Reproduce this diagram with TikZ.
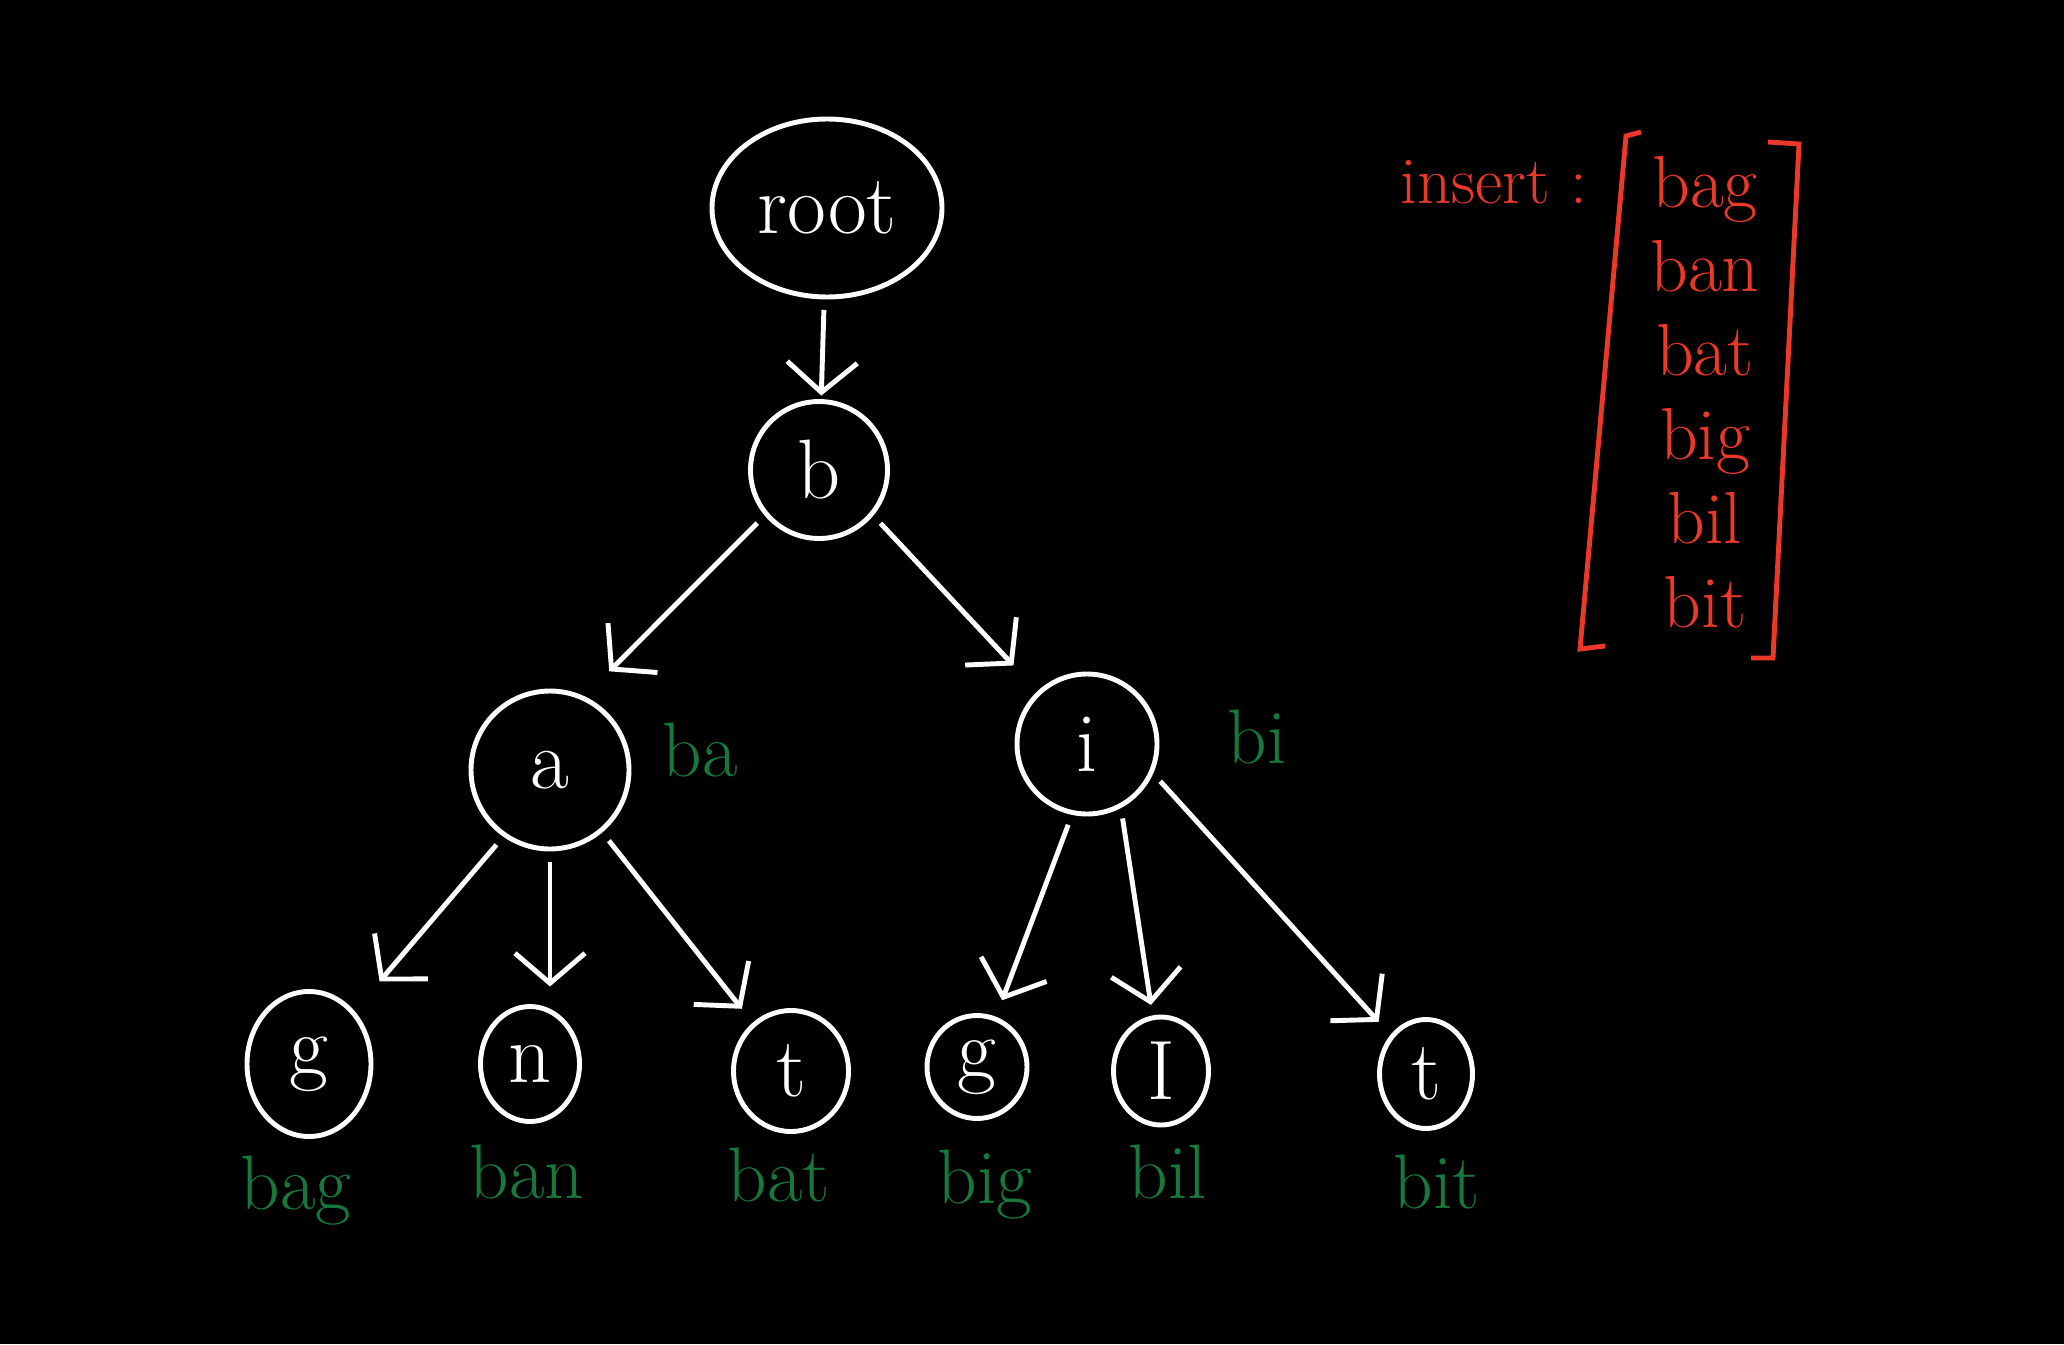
\documentclass[tikz,border=0pt]{standalone}
\usepackage{fontspec}
\usetikzlibrary{arrows.meta,shapes.geometric}

\definecolor{wordgreen}{RGB}{22,120,60}
\definecolor{inkred}{RGB}{236,56,40}

\tikzset{
  letter/.style={draw=white, ellipse, line width=1.4pt, text=white, inner sep=0pt,
    font=\fontsize{24}{28}\selectfont},
  word/.style={text=wordgreen, font=\fontsize{22}{26}\selectfont},
  link/.style={draw=white, line width=1.4pt, -{Straight Barb[length=3mm,width=7mm]},
    shorten >=5pt, shorten <=3pt},
  redink/.style={text=inkred, font=\fontsize{21}{24}\selectfont}
}

\begin{document}
\begin{tikzpicture}
  \fill[black] (0,0) rectangle (20.64,13.44);
  \useasboundingbox (0,0) rectangle (20.64,13.44);

  % trie
  \node[letter, minimum width=2.3cm, minimum height=1.78cm] (root) at (8.27,11.36) {root};
  \node[letter, minimum width=1.37cm, minimum height=1.37cm] (b) at (8.19,8.74) {b};
  \node[letter, minimum width=1.58cm, minimum height=1.58cm] (a) at (5.50,5.74) {a};
  \node[letter, minimum width=1.40cm, minimum height=1.40cm] (i) at (10.87,6.00) {i};

  \node[letter, minimum width=1.24cm, minimum height=1.45cm] (bag) at (3.09,2.80) {g};
  \node[letter, minimum width=0.99cm, minimum height=1.15cm] (ban) at (5.30,2.80) {n};
  \node[letter, minimum width=1.15cm, minimum height=1.21cm] (bat) at (7.91,2.73) {t};
  \node[letter, minimum width=1.00cm, minimum height=1.03cm] (big) at (9.77,2.77) {g};
  \node[letter, minimum width=0.95cm, minimum height=1.08cm] (bil) at (11.61,2.73) {I};
  \node[letter, minimum width=0.93cm, minimum height=1.09cm] (bit) at (14.26,2.70) {t};

  \draw[link, shorten >=1pt] (root) -- (b);
  \draw[link, shorten >=10pt] (b.220) -- (a.65);
  \draw[link, shorten >=10pt] (b.320) -- (i);
  \draw[link, shorten >=11pt] (a.235) -- (bag);
  \draw[link] (a) -- (a |- ban.north);
  \draw[link] (a.310) -- (bat);
  \draw[link] (i.258) -- (big);
  \draw[link, shorten >=3pt] (i.298) -- (bil);
  \draw[link] (i.336) -- (bit);

  % prefixes and words
  \node[word] (pa) at (7.00,5.94) {ba};
  \node[word] (pi) at (12.57,6.07) {bi};
  \node[word] (wbag) at (2.96,1.53) {bag};
  \node[word] (wban) at (5.27,1.72) {ban};
  \node[word] (wbat) at (7.79,1.69) {bat};
  \node[word] (wbig) at (9.85,1.59) {big};
  \node[word] (wbil) at (11.68,1.72) {bil};
  \node[word] (wbit) at (14.37,1.62) {bit};

  % insert list
  \node[redink, font=\fontsize{19}{22}\selectfont] (insert) at (14.94,11.62) {insert :};
  \node[redink, align=center, font=\fontsize{21}{23.9}\selectfont]
    (list) at (17.05,9.52) {bag\\ban\\bat\\big\\bil\\bit};
  \draw[inkred, line width=1.4pt] (16.41,12.12) -- (16.26,12.08) -- (15.80,6.95) -- (16.05,6.98);
  \draw[inkred, line width=1.4pt] (17.68,12.02) -- (17.99,12.00) -- (17.73,6.86) -- (17.51,6.86);
\end{tikzpicture}
\end{document}
